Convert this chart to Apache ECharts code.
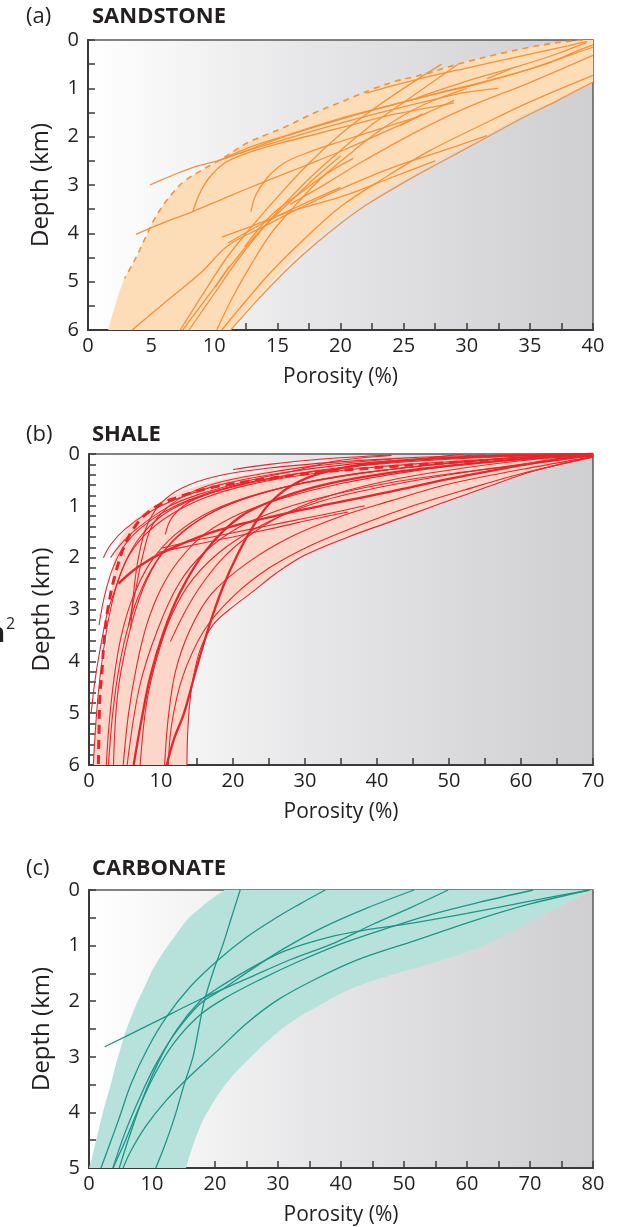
<!DOCTYPE html>
<html><head><meta charset="utf-8">
<script src="https://cdn.jsdelivr.net/npm/echarts@6/dist/echarts.min.js"></script>
<style>html,body{margin:0;padding:0;background:#fff}#c{width:620px;height:1227px}</style>
</head><body><div id="c"></div>
<script>
const FONT = "'Open Sans', sans-serif";
const TXT = '#231f20';

// ---------- (a) SANDSTONE ----------
const sandXMax = 40, sandXStep = 2.5, sandXLabelStep = 5;
const sandYMax = 6, sandYStep = 0.5;
// upper (dashed) boundary of the shaded field, top -> bottom
const sandUpperBound = [[39.2,0],[37,0.06],[35,0.15],[32.5,0.29],[30,0.45],[28.5,0.56],[27,0.68],[25.7,0.77],[24.4,0.85],[22.7,1.0],[21,1.18],[19.5,1.34],[18,1.5],[16.8,1.65],[15.6,1.8],[14.3,1.94],[13,2.08],[12,2.22],[11.1,2.38],[10.3,2.5],[9.5,2.62],[8.7,2.74],[7.9,2.87],[7.2,3.02],[6.6,3.2],[6,3.4],[5.5,3.6],[5.1,3.78],[4.8,3.95],[4.4,4.17],[4,4.4],[3.5,4.65],[2.9,4.93],[2.5,5.2],[2.2,5.45],[1.9,5.72],[1.6,6],[1.3,6.4]];
// lower boundary, bottom -> top
const sandLowerBound = [[10.4,6.35],[11.3,6],[11.9,5.8],[12.5,5.6],[13.2,5.4],[14,5.15],[15,4.87],[16,4.6],[17,4.35],[18,4.12],[19,3.9],[20,3.7],[21,3.5],[22,3.32],[23.5,3.1],[25,2.88],[26.5,2.66],[28,2.45],[29.5,2.25],[31,2.05],[32.5,1.83],[34,1.62],[35.5,1.43],[37,1.25],[38.5,1.05],[40,0.87],[41.5,0.68],[41.5,-0.3],[40.5,-0.08]];
const sandDashed = sandUpperBound.slice(0, 33);
const sandCurves = [
 [[4.9,3.0],[6.5,2.82],[8.5,2.62],[10.4,2.49],[12.5,2.3],[14.4,2.15],[18.4,1.84],[22.3,1.56],[27.1,1.25],[30,1.08],[32.5,1.0]],
 [[10.5,2.48],[13,2.2],[16,1.95],[20,1.62],[24,1.35],[28,1.08],[32,0.82],[36,0.52],[39,0.2],[40,0.1]],
 [[12,2.35],[15,2.05],[19,1.72],[23,1.42],[27,1.15],[31,0.9],[35,0.6],[38.5,0.28],[40,0.15]],
 [[8.3,3.55],[8.8,3.2],[9.6,2.85],[10.8,2.55],[12.5,2.35],[15,2.15],[18,1.95],[21,1.75],[24,1.55],[27,1.4],[29,1.3]],
 [[3.8,4.02],[6,3.78],[8.3,3.55],[11,3.25],[13.9,2.94],[17.6,2.56],[20.5,2.25],[23.5,1.9],[26.5,1.55],[29,1.25]],
 [[12.9,3.55],[13.3,3.2],[14.2,2.85],[15.5,2.55],[17.5,2.32],[20,2.1],[23,1.85],[26,1.6]],
 [[7.3,6],[9,5.3],[11,4.5],[13,3.85],[15,3.25],[17.5,2.55],[20,1.95],[22.5,1.45],[25,1.0],[28,0.5]],
 [[8,6],[10,5.25],[12,4.5],[14.5,3.7],[17,3.0],[19.5,2.4],[22.5,1.75],[25.5,1.2],[29.3,0.5]],
 [[10.2,6],[11.3,5.4],[12.8,4.7],[14.5,4.0],[16.5,3.4],[18.5,2.85],[21,2.3],[23.5,1.8],[26.5,1.35],[30,1.0]],
 [[11.3,6],[13,5.5],[15,4.95],[17,4.45],[19.5,3.9],[22,3.42],[25,2.95],[28,2.52],[31,2.1],[34,1.67],[37,1.28],[40,0.87]],
 [[10.6,6],[12.5,5.4],[14.5,4.8],[17,4.15],[20,3.45],[23.5,2.85],[27,2.3],[31,1.78],[35,1.28],[40,0.73]],
 [[3.5,6],[6,5.45],[9,4.8],[11.1,4.25],[14,3.85],[17,3.45],[20.3,3.05],[24,2.65],[28,2.3],[31.6,1.98]],
 [[10.6,4.08],[13,3.85],[16,3.55],[20.3,3.22],[24,2.85],[27.5,2.5]],
 [[16,3.4],[19,2.95],[21.5,2.55],[26,1.9],[30,1.4],[35,0.88],[40,0.32]],
 [[7.5,6],[9.5,5.3],[11.5,4.6],[13.8,3.9],[16,3.35],[18,2.85],[20,2.4]],
 [[10.1,5.11],[11.2,4.68]],
 [[31.6,0.8],[33.5,0.6]],
 [[24.7,1.77],[26.5,1.53]],
 [[26,1.2],[30,0.85],[34,0.55],[37,0.3],[39.5,0.05]],
 [[22,1.1],[26,0.82],[30,0.58],[34,0.35],[38,0.12],[39.5,0.03]],
 [[12.4,4.28],[14.5,3.63],[16.9,3.15],[19,2.75],[21,2.45]],
 [[11.1,4.2],[14,3.77],[17,3.4],[20,3.05]]
];

// ---------- (b) SHALE ----------
const shaleXMax = 70, shaleXStep = 5, shaleXLabelStep = 10;
const shaleYMax = 6, shaleYStep = 0.2;
const shaleUpperBound = [[72,-0.15],[62,-0.04],[57,0.02],[50,0.07],[43,0.12],[36,0.16],[29.3,0.21],[27.2,0.27],[23.5,0.36],[20.3,0.44],[16.5,0.56],[13.3,0.7],[11.3,0.82],[9.6,0.95],[7.9,1.1],[6.4,1.27],[5.3,1.45],[4.5,1.6],[3.9,1.83],[3.4,2.1],[3.2,2.5],[3.1,2.9],[2.9,3.15],[2.6,3.5],[2.3,3.8],[2,4.1],[1.6,4.55],[1.1,5.07],[0.85,5.5],[0.6,6],[0.45,6.4]];
const shaleLowerBound = [[13.55,6.4],[13.6,6],[13.7,5.4],[14,4.69],[14.4,4.3],[15,3.91],[15.9,3.57],[17.2,3.27],[19.5,2.95],[22.8,2.63],[25.6,2.35],[28.8,2.05],[33.5,1.76],[38.6,1.47],[43,1.24],[47.8,1.02],[52.5,0.78],[57,0.56],[63,0.32],[67,0.16],[69.6,0.08],[71,-0.1]];
const shaleDashed = [[70,0],[60,0.08],[52,0.15],[47,0.19],[42,0.24],[33,0.34],[29,0.4],[23.5,0.5],[18,0.62],[14.7,0.73],[12,0.85],[10,0.96],[8,1.15],[6.9,1.3],[5.5,1.6],[4.5,1.92],[3.7,2.3],[3.1,2.63],[2.5,3.1],[2.1,3.6],[1.8,4.2],[1.5,4.7],[1.4,5.3],[1.3,6]];
const shaleThick = [
 [[10.8,6],[11.8,5.5],[13.2,5.0],[14.8,4.2],[16.5,3.4],[18.5,2.6],[20.7,1.92],[23,1.35],[25.1,0.95],[28,0.62],[32,0.38],[38,0.2],[48,0.09],[58,0.03],[70,0]],
 [[6.2,6],[7.2,5.2],[8.5,4.3],[10.3,3.46],[12.6,2.68],[16.3,1.85],[21,1.21],[26.5,0.85],[33,0.58],[42,0.36],[52,0.2],[62,0.08],[70,0.02]],
 [[4.1,2.5],[6.8,2.18],[11,1.85],[18,1.47],[27.2,1.15],[34,0.95],[42,0.72],[50,0.48],[58,0.27],[65,0.1],[70,0.03]]
];
const shaleCurves = [
 [[0.3,5.0],[0.8,4.4],[1.5,3.8],[2.5,3.1],[3.4,2.7],[5.2,2.05],[7.5,1.6],[11,1.2],[16,0.85],[22,0.6],[30,0.4],[40,0.25],[50,0.15],[60,0.07],[70,0.02]],
 [[3.0,2.0],[4.1,1.79],[6.4,1.47],[11,1.02],[15.7,0.76],[22.6,0.5],[29.3,0.3],[34,0.14],[42,0.03]],
 [[1.4,3.3],[1.9,2.9],[2.6,2.5],[3.6,2.1],[5,1.75],[7,1.45],[10,1.15],[14,0.88],[20,0.62],[28,0.4],[38,0.22],[52,0]],
 [[10,1.82],[15,1.66],[20,1.52],[25,1.38],[30,1.24],[35,1.1],[38.3,1.0]],
 [[9.6,1.9],[15,1.74],[20,1.6],[26,1.42],[31.4,1.25],[36,1.12]],
 [[0.6,6],[0.9,5.3],[1.3,4.6],[1.9,3.9],[2.7,3.2],[3.6,2.65],[5,2.1],[7,1.62],[10,1.2],[14,0.9],[20,0.62],[28,0.4],[38,0.22],[50,0.1],[62,0.03],[70,0]],
 [[2.7,6],[3.3,5],[4.2,4.1],[5.5,3.3],[7.3,2.6],[9.7,2.0],[13,1.5],[17.5,1.1],[23,0.8],[30,0.55],[40,0.33],[52,0.15],[62,0.05],[70,0.01]],
 [[3.4,6],[4,4.6],[5.5,3.5],[7.5,2.6],[10,1.95],[14,1.4],[19,1.0],[26,0.68],[35,0.42],[45,0.25],[55,0.12],[66,0]],
 [[4.75,6],[5.5,5],[6.6,4.1],[8,3.3],[10,2.6],[12.5,2.05],[16,1.55],[21,1.15],[27,0.85],[35,0.57],[45,0.33],[55,0.16],[64,0.05],[70,0.02]],
 [[7.1,6],[8,4.8],[9.5,3.9],[11.5,3.1],[14.5,2.4],[19,1.8],[25,1.3],[32,0.92],[40,0.65],[50,0.4],[60,0.2],[70,0.03]],
 [[5.3,6],[7,4.5],[9.5,3.4],[12.5,2.5],[16,1.9],[21,1.4],[27,1.05],[34,0.78],[42,0.55],[52,0.35],[62,0.18],[70,0.03]],
 [[10.5,6],[11,5.1],[12,4.2],[14,3.4],[17,2.7],[22,2.1],[28,1.6],[35,1.2],[42,0.9],[50,0.58],[60,0.3],[70,0.05]],
 [[13.6,6],[13.7,5.4],[14,4.8],[14.5,4.3],[15.5,3.75],[17.2,3.3],[19.5,3.0],[22.8,2.65],[26,2.3],[30,1.95],[36,1.6],[42,1.3],[48,1.0],[55,0.65],[62,0.32],[70,0.05]],
 [[11,6],[11.5,5.2],[13,4.3],[16,3.4],[20,2.75],[25,2.2],[31,1.75],[38,1.35],[45,1.0],[52,0.7],[60,0.38],[70,0.06]],
 [[11.3,3.62],[13.5,3.0],[16,2.45],[19,1.95],[23,1.5],[28,1.1],[34,0.78],[42,0.5],[52,0.27],[62,0.1],[70,0.03]],
 [[5.8,3.35],[6.1,2.8],[6.8,2.05],[8,1.4],[10,0.95],[13,0.65],[18,0.42],[25,0.27],[35,0.15],[45,0.07],[55,0.02]],
 [[5.5,3.3],[6.4,2.68],[7.4,2.0],[8.7,1.4],[11,1.02],[14,0.75],[18,0.55],[24,0.38],[32,0.22],[42,0.1]],
 [[10.6,1.55],[11.2,1.3],[12.3,1.1],[14,0.92],[17,0.75],[21,0.6],[27,0.45]],
 [[2.4,6],[2.8,5.2],[3.5,4.3],[4.5,3.5],[6,2.8],[8.5,2.1],[12,1.55],[17,1.1],[24,0.75],[33,0.48],[44,0.26],[56,0.1],[68,0]],
 [[2.0,2.0],[3,1.75],[5,1.45],[8,1.15],[12,0.88],[18,0.6],[26,0.38],[36,0.2],[48,0.08],[60,0]],
 [[20,0.3],[25,0.2],[32,0.1],[42,0.02]]
];

// ---------- (c) CARBONATE ----------
const carbXMax = 80, carbXStep = 5, carbXLabelStep = 10;
const carbYMax = 5, carbYStep = 0.5;
const carbUpperBound = [[23.5,-0.25],[21.5,0],[20.2,0.1],[19,0.2],[17.5,0.34],[16,0.48],[14.7,0.66],[13.5,0.85],[12.2,1.05],[11,1.26],[9.8,1.5],[8.8,1.75],[7.7,2.01],[6.7,2.28],[5.8,2.56],[5,2.85],[4.2,3.16],[3.5,3.48],[2.8,3.75],[2.2,4.0],[1.6,4.28],[1,4.56],[0.5,4.8],[0,5],[-0.5,5.3]];
const carbLowerBound = [[15,5.3],[15.4,5],[15.9,4.8],[16.5,4.6],[17.3,4.35],[18.2,4.12],[19.3,3.9],[20.5,3.68],[21.8,3.48],[23.3,3.28],[25,3.08],[26.8,2.88],[28.8,2.67],[31,2.47],[33.5,2.27],[36.2,2.1],[39,1.92],[42,1.76],[45,1.63],[48.8,1.5],[52,1.4],[55,1.3],[58,1.19],[61.3,1.06],[64.5,0.9],[67.7,0.72],[71,0.52],[74,0.34],[77,0.17],[80,0],[82,-0.12]];
const carbCurves = [
 [[24,0],[22.6,0.5],[21.2,1.0],[19.8,1.44],[18.3,2.0],[17.4,2.5],[16.5,3.0],[15.1,3.5],[13.6,4.08],[12,4.6],[10.6,5]],
 [[37.5,0],[33.5,0.25],[30,0.48],[25,0.85],[20.5,1.26],[16,1.75],[12.3,2.28],[9.3,2.85],[6.7,3.48],[4.8,4.1],[3.2,4.6],[1.9,5]],
 [[51.6,0],[44,0.33],[37,0.68],[31,1.05],[25.5,1.45],[21,1.8],[17.6,2.05],[13.5,2.6],[10.3,3.2],[7.8,3.8],[5.6,4.4],[3.8,5]],
 [[2.5,2.82],[10,2.4],[17.6,1.97],[25,1.6],[32,1.25],[39,0.95],[45,0.62],[51,0.32],[57,0]],
 [[70.5,0],[62,0.22],[54,0.45],[47,0.7],[40,0.97],[33,1.3],[27,1.62],[21.5,1.95],[17.6,2.25],[13.5,2.75],[10.5,3.3],[8,3.9],[5.8,4.5],[3.8,5]],
 [[79.5,0],[70,0.2],[60,0.42],[50,0.62],[45,0.7],[38,0.85],[31,1.1],[25,1.45],[20,1.8],[17.6,2.0],[14,2.5],[11,3.1],[8.7,3.7],[6.8,4.3],[4.8,5]],
 [[79.5,0],[70,0.25],[61.4,0.54],[52,0.9],[42.5,1.26],[36,1.6],[29.9,1.98],[25,2.4],[20.5,2.88],[16,3.35],[12.3,3.78],[9,4.25],[6.7,4.68],[5.4,5]]
];

// ---------- build ----------
const grids = [
  {left:88, top:40, width:505, height:290},
  {left:89, top:454, width:504, height:311},
  {left:89, top:890, width:504, height:278}
];
function bg(){
  return new echarts.graphic.LinearGradient(0,0,1,0,[
    {offset:0,color:'#ffffff'},{offset:0.45,color:'#e6e6e8'},{offset:1,color:'#cfcfd2'}]);
}
function labelFmt(step){
  return function(v){ const r = v/step; return Math.abs(r-Math.round(r))<1e-6 ? String(Math.round(v)) : ''; };
}
function xAxis(gi, max, interval, lstep){
  return {gridIndex:gi, type:'value', min:0, max:max, interval:interval, position:'bottom',
    axisLine:{show:true, onZero:false, lineStyle:{color:'#3a3a3a', width:2}},
    axisTick:{show:true, inside:true, length:7, lineStyle:{color:'#3a3a3a', width:1.5}},
    axisLabel:{formatter:labelFmt(lstep), color:TXT, fontSize:20, fontFamily:FONT, margin:6, showMinLabel:true, showMaxLabel:true},
    splitLine:{show:false},
    name:'Porosity (%)', nameLocation:'middle', nameGap:37,
    nameTextStyle:{color:TXT, fontSize:21, fontFamily:FONT}};
}
function yAxis(gi, max, interval){
  return {gridIndex:gi, type:'value', inverse:true, min:0, max:max, interval:interval, position:'left',
    axisLine:{show:true, onZero:false, lineStyle:{color:'#3a3a3a', width:2}},
    axisTick:{show:true, inside:true, length:7, lineStyle:{color:'#3a3a3a', width:1.5}},
    axisLabel:{formatter:labelFmt(1), color:TXT, fontSize:20, fontFamily:FONT, margin:9, showMinLabel:true, showMaxLabel:true},
    splitLine:{show:false},
    name:'Depth (km)', nameLocation:'middle', nameGap:35, nameRotate:90,
    nameTextStyle:{color:TXT, fontSize:24, fontFamily:FONT}};
}
function envelopeSeries(gi, upper, lower, color){
  const poly = upper.concat(lower);
  return {type:'custom', xAxisIndex:gi, yAxisIndex:gi, z:1, silent:true,
    data:[[0,0]],
    renderItem:function(params, api){
      const cs = params.coordSys;
      return {type:'polygon', shape:{points:poly.map(p=>api.coord(p)), smooth:0.3},
        style:{fill:color},
        clipPath:{type:'rect', shape:{x:cs.x, y:cs.y, width:cs.width, height:cs.height}}};
    }};
}
function lineSeries(gi, data, color, width, dash){
  return {type:'line', xAxisIndex:gi, yAxisIndex:gi, data:data, z:3, silent:true,
    showSymbol:false, symbol:'none', smooth:0.35, clip:true,
    lineStyle:{color:color, width:width, type: dash || 'solid', cap:'butt'}};
}

const SAND_FILL='#fddcb8', SAND_LINE='#f4923a';
const SHALE_FILL='#fbd6c9', SHALE_LINE='#e8242c';
const CARB_FILL='#b7e2dc', CARB_LINE='#1b9688';

const series = [];
series.push(envelopeSeries(0, sandUpperBound, sandLowerBound, SAND_FILL));
series.push(lineSeries(0, sandDashed, SAND_LINE, 1.6, [6,5]));
sandCurves.forEach(c=>series.push(lineSeries(0, c, SAND_LINE, 1.3)));

series.push(envelopeSeries(1, shaleUpperBound, shaleLowerBound, SHALE_FILL));
shaleCurves.forEach(c=>series.push(lineSeries(1, c, SHALE_LINE, 1.1)));
shaleThick.forEach(c=>series.push(lineSeries(1, c, SHALE_LINE, 2.3)));
series.push(lineSeries(1, shaleDashed, SHALE_LINE, 3, [9,6]));

series.push(envelopeSeries(2, carbUpperBound, carbLowerBound, CARB_FILL));
carbCurves.forEach(c=>series.push(lineSeries(2, c, CARB_LINE, 1.3)));

function titleText(x, y, t, bold){
  return {type:'text', left:x, top:y, silent:true,
    style:{text:t, fontSize:22, fontFamily:FONT, fontWeight: bold?'bold':'normal', fill:TXT}};
}

const chart = echarts.init(document.getElementById('c'));
chart.setOption({
  animation:false,
  backgroundColor:'#ffffff',
  grid: grids.map(g=>Object.assign({show:true, backgroundColor:bg(), borderColor:'#5a5a5a', borderWidth:1.5, containLabel:false}, g)),
  xAxis:[xAxis(0,sandXMax,sandXStep,sandXLabelStep), xAxis(1,shaleXMax,shaleXStep,shaleXLabelStep), xAxis(2,carbXMax,carbXStep,carbXLabelStep)],
  yAxis:[yAxis(0,sandYMax,sandYStep), yAxis(1,shaleYMax,shaleYStep), yAxis(2,carbYMax,carbYStep)],
  series:series,
  graphic:[
    titleText(26,6,'(a)',false), titleText(92,6,'SANDSTONE',true),
    titleText(26,424,'(b)',false), titleText(92,424,'SHALE',true),
    titleText(26,858,'(c)',false), titleText(92,858,'CARBONATE',true),
    {type:'text', left:-12, top:622, silent:true, style:{text:'n', fontSize:26, fontFamily:FONT, fontWeight:'bold', fill:TXT}},
    {type:'text', left:6, top:616, silent:true, style:{text:'2', fontSize:16, fontFamily:FONT, fill:TXT}}
  ]
});
</script></body></html>
